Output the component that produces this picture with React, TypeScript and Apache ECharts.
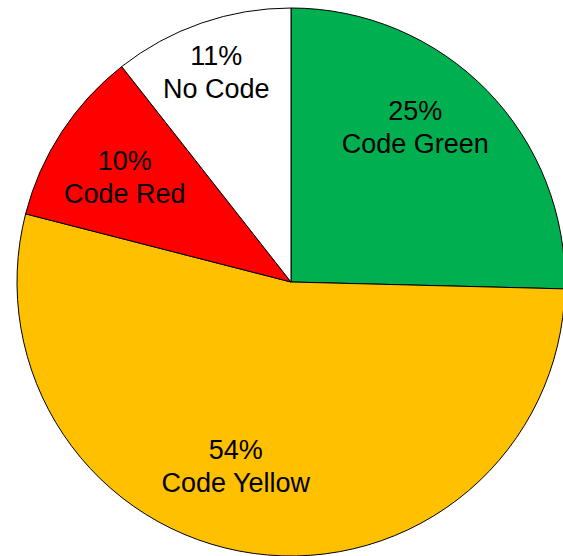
import React, { useEffect, useRef } from "react";
import * as echarts from "echarts";

const categories = ["Code Green", "Code Yellow", "Code Red", "No Code"];
const values = [25.4, 53.6, 10.4, 10.6];
const colors = ["#00B050", "#FFC000", "#FF0000", "#FFFFFF"];
// label nudges relative to the default inside position
const labelShift: [number, number][] = [
  [24, -57],
  [-36, 46],
  [-49, -28],
  [-29, -77],
];

export default function App() {
  const ref = useRef<HTMLDivElement>(null);
  useEffect(() => {
    if (!ref.current) return;
    const chart = echarts.init(ref.current, null, { renderer: "svg" });
    chart.setOption({
      animation: false,
      backgroundColor: "#ffffff",
      series: [
        {
          type: "pie",
          center: [291, 282],
          radius: 274,
          startAngle: 90,
          clockwise: true,
          avoidLabelOverlap: false,
          silent: true,
          itemStyle: { borderColor: "#000000", borderWidth: 1 },
          label: {
            show: true,
            position: "inside",
            fontFamily: "Liberation Sans, Arial, sans-serif",
            fontSize: 27,
            lineHeight: 33,
            color: "#000000",
            align: "center",
            formatter: (p: any) => `${Math.round(p.value)}%\n${p.name}`,
          },
          labelLine: { show: false },
          labelLayout: (params: any) => {
            const s = labelShift[params.dataIndex] || [0, 0];
            return { dx: s[0], dy: s[1] };
          },
          data: categories.map((name, i) => ({
            name,
            value: values[i],
            itemStyle: { color: colors[i] },
          })),
        },
      ],
    });
    return () => chart.dispose();
  }, []);
  return (
    <div
      ref={ref}
      style={{ position: "fixed", left: 0, top: 0, width: 563, height: 556 }}
    />
  );
}
